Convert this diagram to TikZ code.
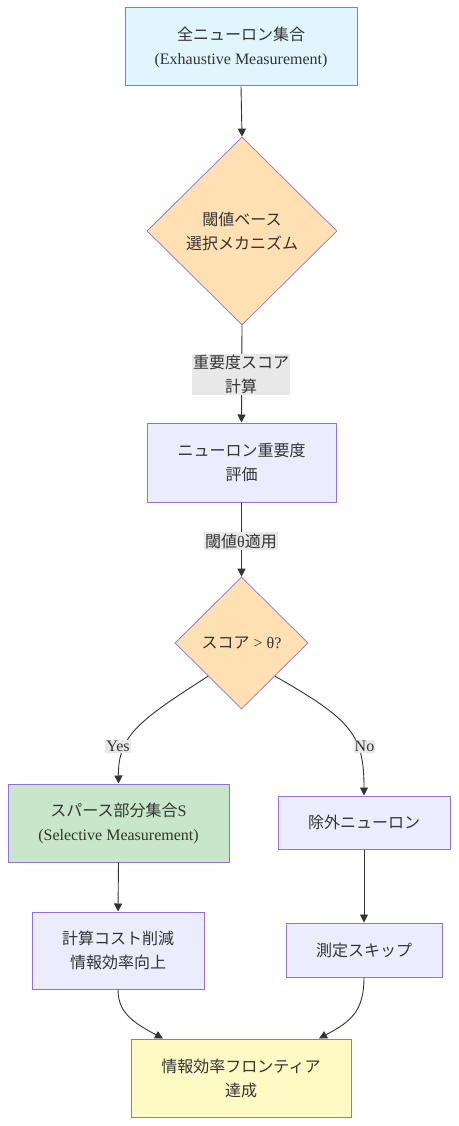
\documentclass[tikz,border=0pt]{standalone}
\usepackage{fontspec}
\setmainfont{Liberation Serif}
\newfontfamily\cjk{Noto Sans CJK JP}
\usetikzlibrary{shapes.geometric,arrows.meta,calc}
\newcommand\J[1]{{\cjk #1}}
\definecolor{txt}{HTML}{333333}
\definecolor{edge}{HTML}{333333}
\definecolor{bord}{HTML}{9370DB}
\definecolor{lblue}{HTML}{E1F5FE}
\definecolor{lav}{HTML}{ECECFF}
\definecolor{lgreen}{HTML}{C8E6C9}
\definecolor{lyellow}{HTML}{FFF9C4}
\definecolor{peach}{HTML}{FFE0B2}
\definecolor{labbg}{HTML}{E8E8E8}
\begin{document}
\begin{tikzpicture}[x=1pt,y=-1pt,
  every node/.style={font=\fontsize{16}{24}\selectfont, text=txt},
  box/.style={draw=bord, line width=1pt, align=center, inner sep=0pt},
  dia/.style={diamond, draw=bord, line width=0.7pt, fill=peach, align=center, inner sep=0pt},
  lab/.style={fill=labbg, inner xsep=1pt, inner ysep=1.5pt, align=center},
  arr/.style={draw=edge, line width=0.9pt, -{Triangle[length=8pt,width=8pt]}}
]
\useasboundingbox (0,0) rectangle (458,1126);
\fill[white] (0,0) rectangle (458,1126);

\node[box, fill=lblue, minimum width=232pt, minimum height=78pt] (a) at (241,47)
  {\J{全ニューロン集合}\\(Exhaustive Measurement)};
\node[dia, minimum width=190pt, minimum height=188pt] (d1) at (242,231)
  {\J{閾値ベース}\\\J{選択メカニズム}};
\node[box, fill=lav, minimum width=189pt, minimum height=79pt] (b) at (241.5,462.5)
  {\J{ニューロン重要度}\\\J{評価}};
\node[dia, minimum width=133pt, minimum height=132pt] (d2) at (241.5,643)
  {\J{スコア} > θ?};
\node[box, fill=lgreen, minimum width=221pt, minimum height=78pt] (s) at (118.5,823)
  {\J{スパース部分集合}S\\(Selective Measurement)};
\node[box, fill=lav, minimum width=172pt, minimum height=53pt] (ex) at (364,822.5)
  {\J{除外ニューロン}};
\node[box, fill=lav, minimum width=172pt, minimum height=77pt] (c) at (118,950.5)
  {\J{計算コスト削減}\\\J{情報効率向上}};
\node[box, fill=lav, minimum width=156pt, minimum height=54pt] (sk) at (364,950)
  {\J{測定スキップ}};
\node[box, fill=lyellow, minimum width=220pt, minimum height=78pt] (f) at (241,1078)
  {\J{情報効率フロンティア}\\\J{達成}};

\draw[arr] (a.south) -- (d1.north);
\draw[arr] (d1.south) -- (b.north);
\draw[arr] (b.south) -- (d2.north);
\draw[arr] (d2.south west) .. controls (140,720) and (118,735) .. (s.north);
\draw[arr] (d2.south east) .. controls (352,720) and (364,735) .. (ex.north);
\draw[arr] (s.south) -- (c.north);
\draw[arr] (ex.south) -- (sk.north);
\draw[arr] (c.south) .. controls (118,1012) and (132,1022) .. ($(f.north)+(-78,0)$);
\draw[arr] (sk.south) .. controls (364,1012) and (350,1022) .. ($(f.north)+(78,0)$);

\node[lab] (l1) at (241,374.5) {\J{重要度スコア}\\\J{計算}};
\node[lab] (l2) at (241,541) {\J{閾値}θ\J{適用}};
\node[lab] (ly) at (118,746.5) {Yes};
\node[lab] (ln) at (364.5,746.5) {No};
\end{tikzpicture}
\end{document}
